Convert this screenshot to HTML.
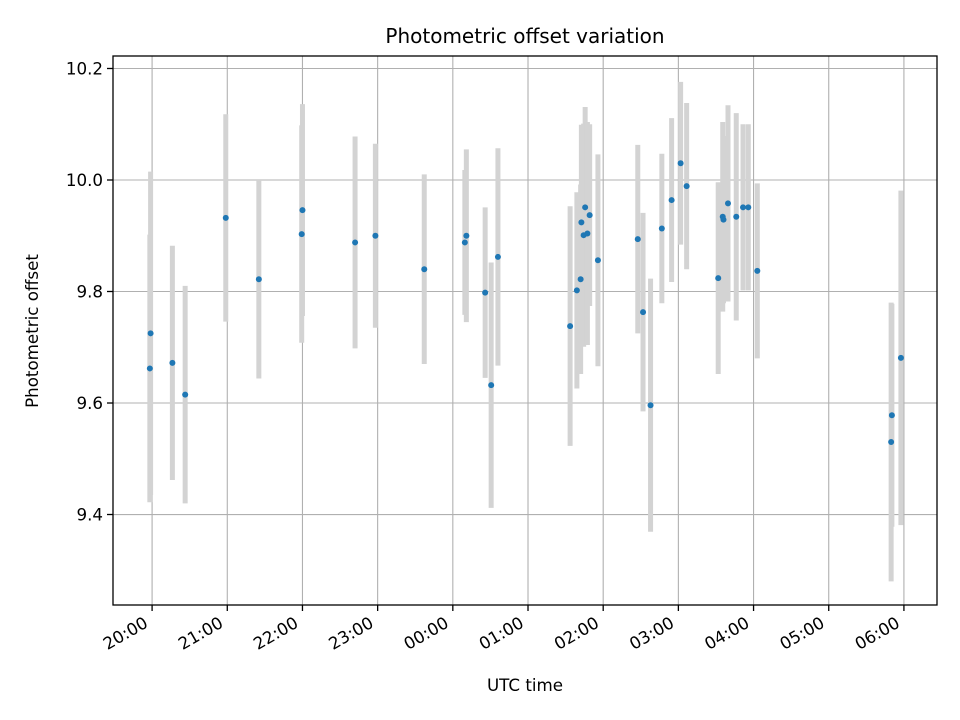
<!DOCTYPE html>
<html><head><meta charset="utf-8">
<style>body{margin:0;background:#fff}svg{display:block}text{font-family:"DejaVu Sans","Liberation Sans",sans-serif;fill:#000}</style>
</head><body>
<svg id="chart" width="960" height="720" xmlns="http://www.w3.org/2000/svg">
<rect width="960" height="720" fill="#fff"/>
<text x="525" y="43" font-size="20" text-anchor="middle">Photometric offset variation</text>
<text x="525" y="691" font-size="16.7" text-anchor="middle">UTC time</text>
<text transform="translate(38,331) rotate(-90)" font-size="16.7" text-anchor="middle">Photometric offset</text>
<g id="grid"></g><g id="bars"></g><g id="pts"></g><g id="axes"></g>
</svg>
<script>
const times=[19.97,19.98,20.27,20.44,20.98,21.42,21.99,22.0,22.70,22.97,23.62,24.16,24.18,24.43,24.51,24.60,25.56,25.65,25.70,25.71,25.74,25.76,25.79,25.82,25.93,26.46,26.53,26.63,26.78,26.91,27.03,27.11,27.53,27.59,27.60,27.66,27.77,27.86,27.93,28.05,29.83,29.84,29.96];
const values=[9.662,9.725,9.672,9.615,9.932,9.822,9.903,9.946,9.888,9.900,9.840,9.888,9.900,9.798,9.632,9.862,9.738,9.802,9.822,9.924,9.901,9.951,9.904,9.937,9.856,9.894,9.763,9.596,9.913,9.964,10.030,9.989,9.824,9.934,9.929,9.958,9.934,9.951,9.951,9.837,9.530,9.578,9.681];
const errors=[0.24,0.29,0.21,0.195,0.186,0.178,0.195,0.19,0.19,0.165,0.17,0.13,0.155,0.153,0.22,0.195,0.215,0.176,0.17,0.175,0.2,0.18,0.2,0.163,0.19,0.169,0.178,0.227,0.134,0.147,0.146,0.149,0.172,0.17,0.15,0.176,0.186,0.149,0.149,0.157,0.25,0.2,0.3];
const xTicks=[20,21,22,23,24,25,26,27,28,29,30];
const xTickLabels=["20:00","21:00","22:00","23:00","00:00","01:00","02:00","03:00","04:00","05:00","06:00"];
const yTicks=[9.4,9.6,9.8,10.0,10.2];
const yTickLabels=["9.4","9.6","9.8","10.0","10.2"];
const L=113,R=937,T=56,B=605;
const x0=19.48,x1=30.44,y0=9.2377,y1=10.2224;
const X=h=>L+(h-x0)/(x1-x0)*(R-L);
const Y=v=>B-(v-y0)/(y1-y0)*(B-T);
const NS="http://www.w3.org/2000/svg";
function mk(tag,attrs,parent){const e=document.createElementNS(NS,tag);for(const k in attrs)e.setAttribute(k,attrs[k]);document.getElementById(parent).appendChild(e);return e;}
xTicks.forEach((t,i)=>{
  const g=mk('line',{x1:X(t),x2:X(t),y1:T,y2:B,stroke:'#b0b0b0','stroke-width':1.1},'grid');
  
  
  const tk=mk('line',{x1:X(t),x2:X(t),y1:B,y2:B+6,stroke:'#000','stroke-width':1.3},'axes');
  
  
  const ax=X(t)-6, ay=B+22;
  const lb=mk('text',{x:ax,y:ay,'font-size':16.7,'text-anchor':'end',transform:`rotate(-30 ${ax} ${ay-6})`},'axes');
  lb.textContent=xTickLabels[i];
  
  
});
yTicks.forEach((t,i)=>{
  const g=mk('line',{x1:L,x2:R,y1:Y(t),y2:Y(t),stroke:'#b0b0b0','stroke-width':1.1},'grid');
  
  
  const tk=mk('line',{x1:L-6,x2:L,y1:Y(t),y2:Y(t),stroke:'#000','stroke-width':1.3},'axes');
  
  
  const lb=mk('text',{x:L-10,y:Y(t)+6,'font-size':16.7,'text-anchor':'end'},'axes');
  lb.textContent=yTickLabels[i];
  
  
});
times.forEach((t,i)=>{
  const b=mk('line',{x1:X(t),x2:X(t),y1:Y(values[i]+errors[i]),y2:Y(values[i]-errors[i]),stroke:'#d3d3d3','stroke-width':5},'bars');
  
  
});
times.forEach((t,i)=>{
  const p=mk('circle',{cx:X(t),cy:Y(values[i]),r:3,fill:'#1f77b4'},'pts');
  
  
});
const fr=mk('rect',{x:L,y:T,width:R-L,height:B-T,fill:'none',stroke:'#000','stroke-width':1.3},'axes');


</script>
</body></html>
